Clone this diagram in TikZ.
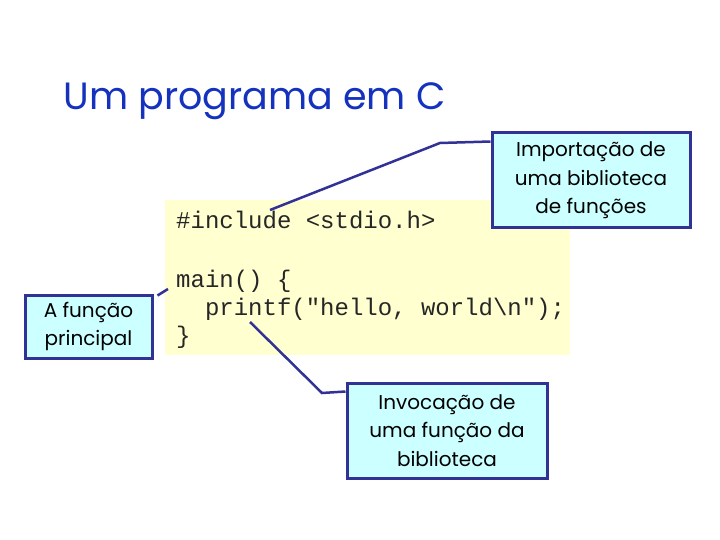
\documentclass[tikz,border=0pt]{standalone}
\usepackage{fontspec}
\setmainfont{Poppins}
\newfontfamily\codefont{Liberation Mono}
\usetikzlibrary{calc}
\definecolor{titleblue}{RGB}{20,50,190}
\definecolor{linkblue}{RGB}{50,50,150}
\definecolor{boxcyan}{RGB}{204,255,255}
\definecolor{codeyellow}{RGB}{255,255,208}
\tikzset{
  callout/.style={draw=linkblue, line width=3pt, fill=boxcyan, align=center,
    inner sep=0pt, font=\fontsize{20}{28.5}\selectfont, text=black},
  link/.style={draw=linkblue, line width=2.5pt},
  codeline/.style={anchor=base west, inner sep=0pt, text=black!85,
    font=\codefont\fontsize{24}{28.7}\selectfont},
}
\begin{document}
\begin{tikzpicture}[x=1pt,y=1pt]
\useasboundingbox (0,0) rectangle (720,-540);
\fill[white] (0,0) rectangle (720,-540);
\node[font=\fontsize{38}{46}\selectfont, text=titleblue, anchor=base west] (title) at (60,-110) {Um programa em C};
\node[fill=codeyellow, minimum width=405pt, minimum height=155pt, inner sep=0pt, anchor=north west] (code) at (165,-200) {};
\node[codeline] (l1) at (176,-229) {\#include <stdio.h>};
\node[codeline] (l2) at (176,-287) {main() \{};
\node[codeline] (l3) at (204.8,-315) {printf("hello, world\textbackslash n");};
\node[codeline] (l4) at (176,-343) {\}};
\node[callout, minimum width=198pt, minimum height=95pt] (lib) at (591,-180.5)
  {Importação de\\uma biblioteca\\de funções};
\node[callout, minimum width=127pt, minimum height=63pt] (princ) at (88.5,-326.5)
  {A função\\principal};
\node[callout, minimum width=200pt, minimum height=95pt] (call) at (447,-430.5)
  {Invocação de\\uma função da\\biblioteca};
\coordinate (incl) at (270,-210);
\coordinate (mainc) at (168,-289);
\coordinate (prf) at (250,-322);
\draw[link] ($(lib.north west)+(0,-10)$) -- (440,-143) -- (incl);
\draw[link] ($(princ.north east)+(4,-2)$) -- (mainc);
\draw[link] ($(call.north west)+(0,-10)$) -- (322,-393) -- (prf);
\end{tikzpicture}
\end{document}
